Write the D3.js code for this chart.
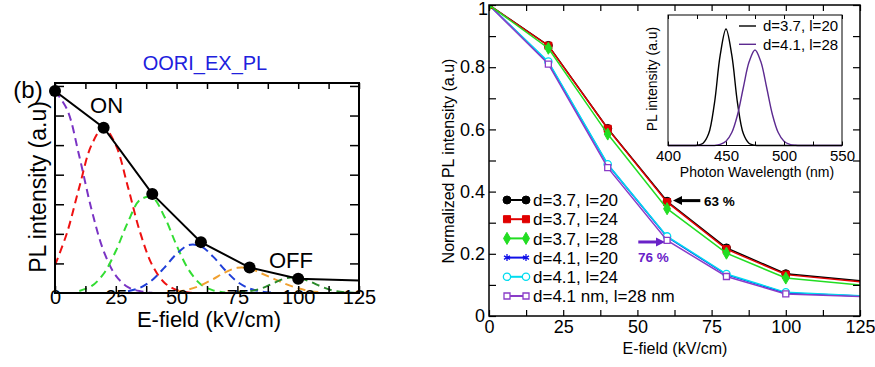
<!DOCTYPE html>
<meta charset="utf-8">
<script src="https://d3js.org/d3.v7.min.js"></script>
<style>
  body { margin: 0; background: #fff; }
  text { font-family: "Liberation Sans", Arial, sans-serif; }
</style>
<div id="chart"></div>
<script>
  // ---------- panel (b): PL intensity vs E-field ----------
  var fieldB = [0, 20, 40, 60, 80, 100];
  var plB = [0.683, 0.559, 0.335, 0.172, 0.086, 0.048];
  var plBEnd = 0.042;           // value where the solid line leaves the frame at 125

  // dashed component curves, sampled every 5 kV/cm (null = lying on the axis)
  var gridB = [0, 5, 10, 15, 20, 25, 30, 35, 40, 45, 50, 55, 60, 65, 70, 75, 80, 85, 90, 95, 100, 105, 110, 115, 120, 125];
  var dashPurple = [0.683, 0.620, 0.462, 0.283, 0.142, 0.059, 0.020, 0.006, 0.001, null, null, null, null, null, null, null, null, null, null, null, null, null, null, null, null, null];
  var dashRed = [0.094, 0.205, 0.358, 0.500, 0.559, 0.500, 0.358, 0.205, 0.094, 0.035, 0.010, 0.002, 0.000, null, null, null, null, null, null, null, null, null, null, null, null, null];
  var dashGreen = [null, null, 0.007, 0.023, 0.065, 0.142, 0.240, 0.315, 0.323, 0.258, 0.161, 0.078, 0.029, 0.009, 0.002, null, null, null, null, null, null, null, null, null, null, null];
  var dashBlue = [null, null, null, null, null, null, 0.006, 0.018, 0.044, 0.086, 0.132, 0.162, 0.158, 0.123, 0.077, 0.038, 0.015, 0.005, 0.001, null, null, null, null, null, null, null];
  var dashOrange = [null, null, null, null, null, null, null, null, null, null, 0.004, 0.012, 0.026, 0.047, 0.070, 0.085, 0.083, 0.066, 0.048, 0.030, 0.016, 0.006, 0.002, null, null, null];
  var dashDkGreen = [null, null, null, null, null, null, null, null, null, null, null, null, null, null, null, 0.002, 0.006, 0.016, 0.034, 0.050, 0.052, 0.038, 0.020, 0.007, 0.002, 0.000];
  var dashColors = ["#7a33c4", "#ee1111", "#33dd33", "#1f3fd8", "#f0a030", "#2a8a2a"];

  // ---------- main panel: normalized PL ----------
  var field = [0, 20, 40, 60, 80, 100];
  var seriesNames = ["d=3.7, l=20", "d=3.7, l=24", "d=3.7, l=28", "d=4.1, l=20", "d=4.1, l=24", "d=4.1 nm, l=28 nm"];
  var s37_20 = [1, 0.870, 0.603, 0.369, 0.219, 0.136];
  var s37_24 = [1, 0.869, 0.602, 0.366, 0.215, 0.133];
  var s37_28 = [1, 0.861, 0.585, 0.345, 0.202, 0.122];
  var s41_20 = [1, 0.815, 0.487, 0.254, 0.133, 0.074];
  var s41_24 = [1, 0.818, 0.488, 0.256, 0.135, 0.076];
  var s41_28 = [1, 0.810, 0.477, 0.243, 0.127, 0.071];
  var endValues = [0.113, 0.110, 0.100, 0.064, 0.065, 0.063];  // at 125 kV/cm
  var xTicks = [0, 12.5, 25, 37.5, 50, 62.5, 75, 87.5, 100, 112.5, 125];
  var yTicks = [0, 0.1, 0.2, 0.3, 0.4, 0.5, 0.6, 0.7, 0.8, 0.9, 1];
  var yTickLabels = ["0", "", "0.2", "", "0.4", "", "0.6", "", "0.8", "", "1"];

  // ---------- inset: PL spectra ----------
  var wl = [400, 405, 410, 415, 420, 425, 430, 435, 440, 445, 450, 455, 460, 465, 470, 475, 480, 485, 490, 495, 500, 505, 510, 515, 520, 525, 530, 535, 540, 545, 550];
  var spec37_20 = [0, 0, 0, 0, 0, 0.002, 0.017, 0.10, 0.36, 0.775, 1, 0.775, 0.36, 0.10, 0.017, 0.002, 0, 0, 0, 0, 0, 0, 0, 0, 0, 0, 0, 0, 0, 0, 0];
  var spec41_28 = [0, 0, 0, 0, 0, 0, 0, 0, 0, 0.009, 0.036, 0.111, 0.266, 0.50, 0.72, 0.82, 0.72, 0.50, 0.266, 0.111, 0.036, 0.009, 0.002, 0, 0, 0, 0, 0, 0, 0, 0];
  var wlTicks = [400, 425, 450, 475, 500, 525, 550];

  var svg = d3.select("#chart").append("svg")
    .attr("width", 875).attr("height", 367);

  // ================= panel (b) =================
  var xb = d3.scaleLinear().domain([0, 125]).range([55, 359]);
  var yb = d3.scaleLinear().domain([0, 0.71]).range([293, 83]);

  svg.append("clipPath").attr("id", "clipB").append("rect")
    .attr("x", 55).attr("y", 83).attr("width", 304).attr("height", 210);

  var gb = svg.append("g");
  var pb = gb.append("g").attr("clip-path", "url(#clipB)");

  var dashes = [dashPurple, dashRed, dashGreen, dashBlue, dashOrange, dashDkGreen];
  var dashLine = d3.line()
    .defined(function (d) { return d[1] !== null; })
    .x(function (d) { return xb(d[0]); })
    .y(function (d) { return yb(d[1]); })
    .curve(d3.curveCatmullRom);
  dashes.forEach(function (vals, i) {
    pb.append("path")
      .datum(gridB.map(function (g, k) { return [g, vals[k]]; }))
      .attr("d", dashLine)
      .attr("fill", "none")
      .attr("stroke", dashColors[i])
      .attr("stroke-width", 2)
      .attr("stroke-dasharray", "8,5");
  });

  var solidB = fieldB.map(function (f, k) { return [f, plB[k]]; }).concat([[125, plBEnd]]);
  pb.append("path")
    .datum(solidB)
    .attr("d", d3.line().x(function (d) { return xb(d[0]); }).y(function (d) { return yb(d[1]); }))
    .attr("fill", "none").attr("stroke", "black").attr("stroke-width", 2);

  gb.selectAll("circle.ptB")
    .data(fieldB)
    .enter().append("circle")
    .attr("cx", function (d) { return xb(d); })
    .attr("cy", function (d, k) { return yb(plB[k]); })
    .attr("r", 6).attr("fill", "black");

  // ticks (inside, no y labels)
  var bTicksX = xTicks;
  gb.append("g").attr("transform", "translate(0,293)")
    .call(d3.axisBottom(xb).tickValues(bTicksX).tickSize(-7).tickPadding(-3)
      .tickFormat(function (d) { return d % 25 === 0 ? d : ""; }))
    .call(function (g) {
      g.select(".domain").remove();
      g.selectAll("text").attr("font-size", 20).attr("font-family", "Liberation Sans, Arial, sans-serif");
      g.selectAll("line").attr("stroke-width", 1.5);
    });
  gb.append("g").attr("transform", "translate(0,83)")
    .call(d3.axisTop(xb).tickValues(bTicksX).tickSize(-6).tickFormat(""))
    .call(function (g) { g.select(".domain").remove(); g.selectAll("line").attr("stroke-width", 1.5); });
  var bTicksY = [0.1, 0.2, 0.3, 0.4, 0.5, 0.6, 0.7];
  gb.append("g").attr("transform", "translate(55,0)")
    .call(d3.axisLeft(yb).tickValues(bTicksY).tickSize(-9).tickFormat(""))
    .call(function (g) { g.select(".domain").remove(); g.selectAll("line").attr("stroke-width", 1.5); });
  gb.append("g").attr("transform", "translate(359,0)")
    .call(d3.axisRight(yb).tickValues(bTicksY).tickSize(-9).tickFormat(""))
    .call(function (g) { g.select(".domain").remove(); g.selectAll("line").attr("stroke-width", 1.5); });

  gb.append("rect").attr("x", 55).attr("y", 83).attr("width", 304).attr("height", 210)
    .attr("fill", "none").attr("stroke", "black").attr("stroke-width", 2);

  gb.append("text").attr("x", 205).attr("y", 63).attr("dy", "0.35em")
    .attr("text-anchor", "middle").attr("font-size", 20).attr("fill", "#2020dd")
    .text("OORI_EX_PL");
  gb.append("text").attr("x", 28).attr("y", 90).attr("dy", "0.35em")
    .attr("text-anchor", "middle").attr("font-size", 24).text("(b)");
  gb.append("text").attr("x", xb(21.2)).attr("y", yb(0.636)).attr("dy", "0.36em")
    .attr("text-anchor", "middle").attr("font-size", 22).text("ON");
  gb.append("text").attr("x", xb(97)).attr("y", yb(0.111)).attr("dy", "0.36em")
    .attr("text-anchor", "middle").attr("font-size", 22).text("OFF");
  gb.append("text").attr("x", 209).attr("y", 319).attr("dy", "0.36em")
    .attr("text-anchor", "middle").attr("font-size", 22).text("E-field (kV/cm)");
  gb.append("text").attr("transform", "translate(38,187) rotate(-90)").attr("dy", "0.36em")
    .attr("text-anchor", "middle").attr("font-size", 23).text("PL intensity (a.u)");

  // ================= main panel =================
  var x = d3.scaleLinear().domain([0, 125]).range([489, 860]);
  var y = d3.scaleLinear().domain([0, 1]).range([316, 5]);

  svg.append("clipPath").attr("id", "clipM").append("rect")
    .attr("x", 489).attr("y", 5).attr("width", 371).attr("height", 311);

  var gm = svg.append("g");
  var pm = gm.append("g").attr("clip-path", "url(#clipM)");

  var allSeries = [s37_20, s37_24, s37_28, s41_20, s41_24, s41_28];
  var colors = ["#000000", "#e00000", "#22dd22", "#1010e8", "#00dcef", "#8a3cc8"];
  var shapes = [
    { type: d3.symbolCircle, size: 50, fill: true },
    { type: d3.symbolSquare, size: 50, fill: true },
    { type: d3.symbolDiamond, size: 42, fill: true },
    { type: d3.symbolAsterisk, size: 34, fill: false },
    { type: d3.symbolCircle, size: 42, fill: false },
    { type: d3.symbolSquare, size: 36, fill: false }
  ];
  var drawOrder = [3, 4, 5, 0, 1, 2];

  var mLine = d3.line().x(function (d) { return x(d[0]); }).y(function (d) { return y(d[1]); });

  function marker(g, i, cx, cy) {
    var s = shapes[i];
    g.append("path")
      .attr("d", d3.symbol().type(s.type).size(s.size)())
      .attr("transform", "translate(" + cx + "," + cy + ")")
      .attr("fill", s.fill ? colors[i] : (s.type === d3.symbolAsterisk ? "none" : "white"))
      .attr("stroke", colors[i])
      .attr("stroke-width", s.fill ? 1 : 1.3);
  }

  drawOrder.forEach(function (i) {
    var vals = allSeries[i];
    var pts = field.map(function (f, k) { return [f, vals[k]]; }).concat([[125, endValues[i]]]);
    pm.append("path").datum(pts).attr("d", mLine)
      .attr("fill", "none").attr("stroke", colors[i]).attr("stroke-width", 1.5);
    field.forEach(function (f, k) { marker(pm, i, x(f), y(vals[k])); });
  });

  function styleAxis(g) {
    g.select(".domain").remove();
    g.selectAll("line").attr("stroke-width", 1.2);
    g.selectAll("text").attr("font-size", 18).attr("font-family", "Liberation Sans, Arial, sans-serif");
  }
  gm.append("g").attr("transform", "translate(0,316)")
    .call(d3.axisBottom(x).tickValues(xTicks).tickSize(-6).tickPadding(4)
      .tickFormat(function (d) { return d % 25 === 0 ? d : ""; }))
    .call(styleAxis);
  gm.append("g").attr("transform", "translate(0,5)")
    .call(d3.axisTop(x).tickValues(xTicks).tickSize(-6).tickFormat(""))
    .call(styleAxis);
  gm.append("g").attr("transform", "translate(489,0)")
    .call(d3.axisLeft(y).tickValues(yTicks).tickSize(-7).tickPadding(4)
      .tickFormat(function (d, k) { return yTickLabels[k]; }))
    .call(styleAxis)
    .call(function (g) {
      // the top label sits a little lower so it stays inside the page
      g.selectAll(".tick").filter(function (d) { return d === 1; })
        .select("text").attr("dy", "0.5em").attr("x", -1);
    });
  gm.append("g").attr("transform", "translate(860,0)")
    .call(d3.axisRight(y).tickValues(yTicks).tickSize(-7).tickFormat(""))
    .call(styleAxis);
  gm.append("rect").attr("x", 489).attr("y", 5).attr("width", 371).attr("height", 311)
    .attr("fill", "none").attr("stroke", "black").attr("stroke-width", 1.5);

  gm.append("text").attr("x", 675).attr("y", 348).attr("dy", "0.36em")
    .attr("text-anchor", "middle").attr("font-size", 16).text("E-field (kV/cm)");
  gm.append("text").attr("transform", "translate(448,161) rotate(-90)").attr("dy", "0.36em")
    .attr("text-anchor", "middle").attr("font-size", 16).text("Normalized PL intensity (a.u)");

  // legend
  var legend = gm.append("g");
  seriesNames.forEach(function (name, i) {
    var ly = 200 + i * 19.2;
    legend.append("line").attr("x1", 507).attr("x2", 526).attr("y1", ly).attr("y2", ly)
      .attr("stroke", colors[i]).attr("stroke-width", 2);
    marker(legend, i, 507, ly);
    marker(legend, i, 526, ly);
    legend.append("text").attr("x", 533).attr("y", ly).attr("dy", "0.36em")
      .attr("font-size", 17).text(name);
  });

  // annotations
  var notes = [
    { from: [71.2, 0.371], to: [62.0, 0.371], label: "63 %", at: [72.4, 0.369], color: "#000000" },
    { from: [50.3, 0.238], to: [59.3, 0.238], label: "76 %", at: [50.2, 0.190], color: "#6a22c8" }
  ];
  notes.forEach(function (n) {
    var x1 = x(n.from[0]), y1 = y(n.from[1]), x2 = x(n.to[0]), y2 = y(n.to[1]);
    var dir = x2 < x1 ? 1 : -1;
    gm.append("line").attr("x1", x1).attr("y1", y1).attr("x2", x2 + dir * 7).attr("y2", y2)
      .attr("stroke", n.color).attr("stroke-width", 3);
    gm.append("path")
      .attr("d", "M" + x2 + "," + y2 + "L" + (x2 + dir * 9) + "," + (y2 - 4.5) + "L" + (x2 + dir * 9) + "," + (y2 + 4.5) + "Z")
      .attr("fill", n.color);
    gm.append("text").attr("x", x(n.at[0])).attr("y", y(n.at[1])).attr("dy", "0.36em")
      .attr("font-size", 13.5).attr("font-weight", "bold").attr("fill", n.color).text(n.label);
  });

  // ================= inset =================
  var xi = d3.scaleLinear().domain([400, 550]).range([668, 842]);
  var yi = d3.scaleLinear().domain([0, 1.12]).range([145.5, 15]);
  var gi = svg.append("g");
  gi.append("rect").attr("x", 668).attr("y", 15).attr("width", 174).attr("height", 130.5)
    .attr("fill", "white");

  var iLine = d3.line().x(function (d) { return xi(d[0]); }).y(function (d) { return yi(d[1]); })
    .curve(d3.curveCatmullRom);
  var specColors = ["#000000", "#5c2a90"];
  [spec37_20, spec41_28].forEach(function (vals, i) {
    gi.append("path").datum(wl.map(function (w, k) { return [w, vals[k]]; }))
      .attr("d", iLine).attr("fill", "none").attr("stroke", specColors[i]).attr("stroke-width", 1.4);
  });

  function styleInset(g) {
    g.select(".domain").remove();
    g.selectAll("line").attr("stroke-width", 1);
    g.selectAll("text").attr("font-size", 15).attr("font-family", "Liberation Sans, Arial, sans-serif");
  }
  gi.append("g").attr("transform", "translate(0,145.5)")
    .call(d3.axisBottom(xi).tickValues(wlTicks).tickSize(-4).tickPadding(5)
      .tickFormat(function (d) { return d % 50 === 0 ? d : ""; }))
    .call(styleInset);
  gi.append("g").attr("transform", "translate(0,15)")
    .call(d3.axisTop(xi).tickValues(wlTicks).tickSize(-4).tickFormat(""))
    .call(styleInset);
  gi.append("rect").attr("x", 668).attr("y", 15).attr("width", 174).attr("height", 130.5)
    .attr("fill", "none").attr("stroke", "black").attr("stroke-width", 1);

  var specNames = ["d=3.7, l=20", "d=4.1, l=28"];
  specNames.forEach(function (name, i) {
    var ly = 26 + i * 18.3;
    gi.append("line").attr("x1", 739).attr("x2", 756).attr("y1", ly).attr("y2", ly)
      .attr("stroke", specColors[i]).attr("stroke-width", 1.4);
    gi.append("text").attr("x", 763).attr("y", ly).attr("dy", "0.36em")
      .attr("font-size", 15).text(name);
  });
  gi.append("text").attr("x", 757).attr("y", 172).attr("dy", "0.36em")
    .attr("text-anchor", "middle").attr("font-size", 14).text("Photon Wavelength (nm)");
  gi.append("text").attr("transform", "translate(652,79) rotate(-90)").attr("dy", "0.36em")
    .attr("text-anchor", "middle").attr("font-size", 14).text("PL intensity (a.u)");
</script>
